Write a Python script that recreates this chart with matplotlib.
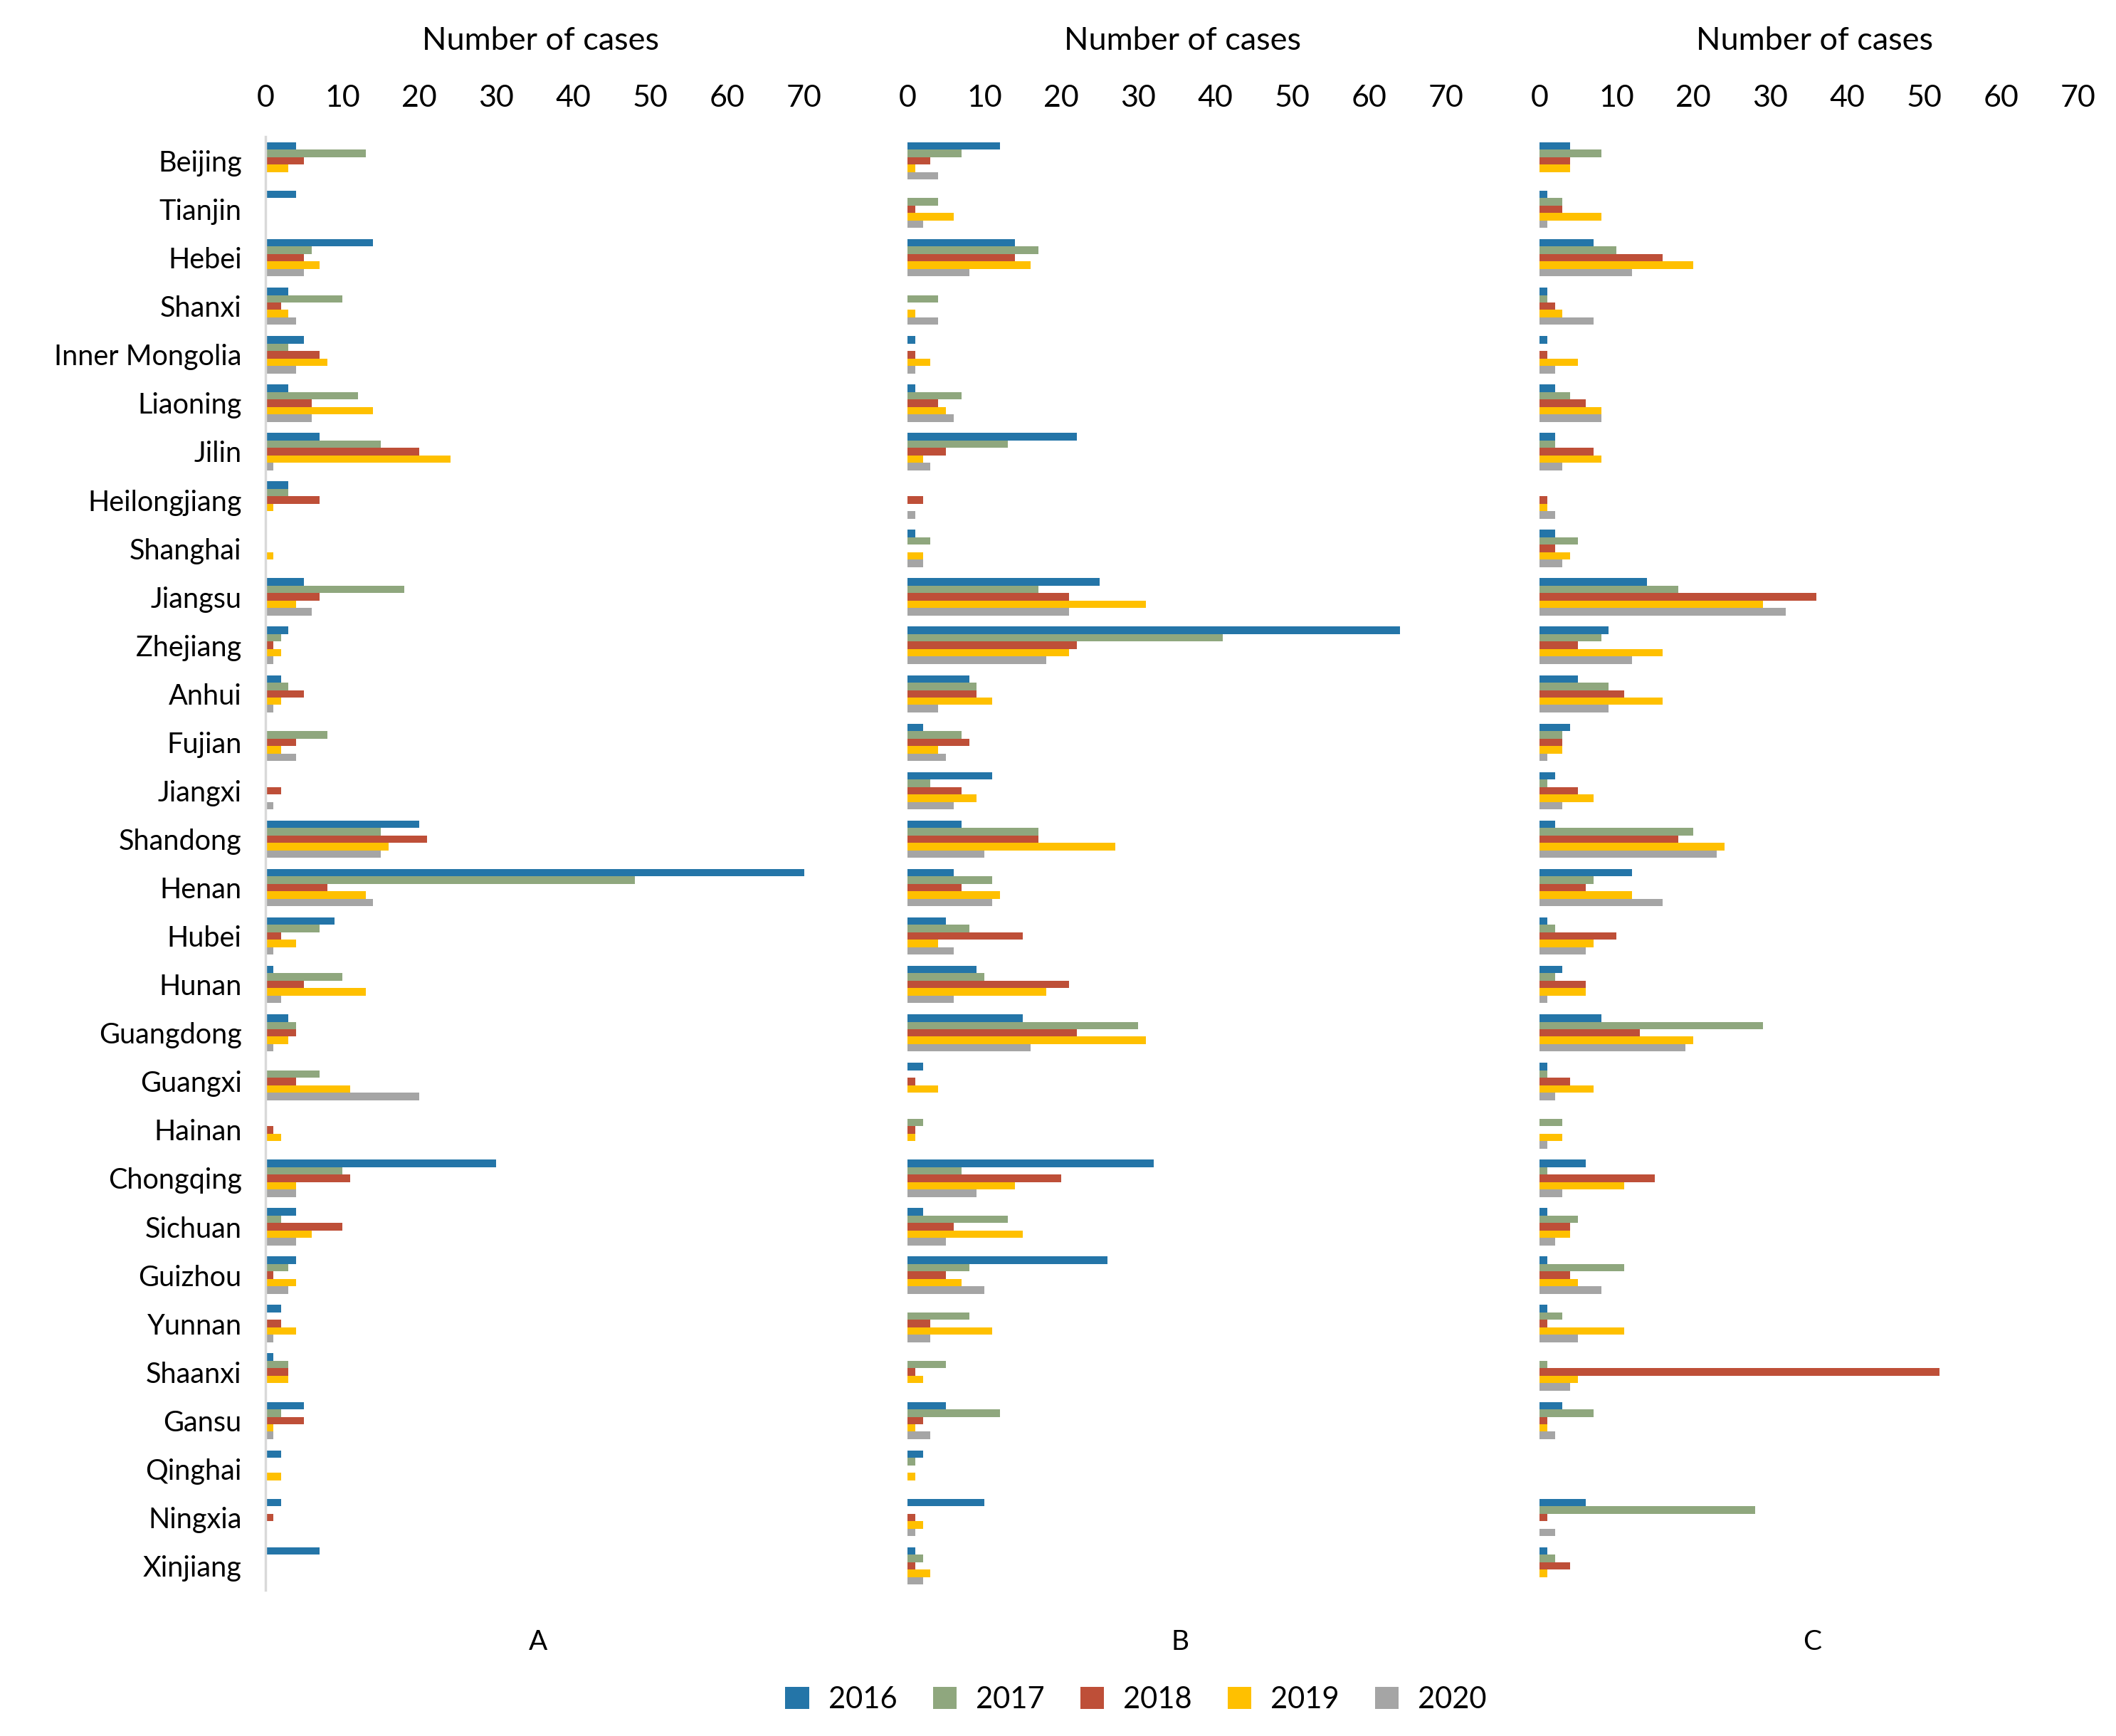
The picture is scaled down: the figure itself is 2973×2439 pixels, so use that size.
import matplotlib
matplotlib.use("Agg")
import matplotlib.pyplot as plt
import numpy as np
from matplotlib.patches import Patch

plt.rcParams['font.family'] = ['Lato', 'DejaVu Sans']

provinces = ["Beijing", "Tianjin", "Hebei", "Shanxi", "Inner Mongolia", "Liaoning", "Jilin",
             "Heilongjiang", "Shanghai", "Jiangsu", "Zhejiang", "Anhui", "Fujian", "Jiangxi",
             "Shandong", "Henan", "Hubei", "Hunan", "Guangdong", "Guangxi", "Hainan",
             "Chongqing", "Sichuan", "Guizhou", "Yunnan", "Shaanxi", "Gansu", "Qinghai",
             "Ningxia", "Xinjiang"]
years = ["2016", "2017", "2018", "2019", "2020"]
colors = ["#2475A8", "#8FA77E", "#BE4F38", "#FFC000", "#A5A5A5"]

# Panel A
A_2016 = [4, 4, 14, 3, 5, 3, 7, 3, 0, 5, 3, 2, 0, 0, 20, 70, 9, 1, 3, 0, 0, 30, 4, 4, 2, 1, 5, 2, 2, 7]
A_2017 = [13, 0, 6, 10, 3, 12, 15, 3, 0, 18, 2, 3, 8, 0, 15, 48, 7, 10, 4, 7, 0, 10, 2, 3, 0, 3, 2, 0, 0, 0]
A_2018 = [5, 0, 5, 2, 7, 6, 20, 7, 0, 7, 1, 5, 4, 2, 21, 8, 2, 5, 4, 4, 1, 11, 10, 1, 2, 3, 5, 0, 1, 0]
A_2019 = [3, 0, 7, 3, 8, 14, 24, 1, 1, 4, 2, 2, 2, 0, 16, 13, 4, 13, 3, 11, 2, 4, 6, 4, 4, 3, 1, 2, 0, 0]
A_2020 = [0, 0, 5, 4, 4, 6, 1, 0, 0, 6, 1, 1, 4, 1, 15, 14, 1, 2, 1, 20, 0, 4, 4, 3, 1, 0, 1, 0, 0, 0]

# Panel B
B_2016 = [12, 0, 14, 0, 1, 1, 22, 0, 1, 25, 64, 8, 2, 11, 7, 6, 5, 9, 15, 2, 0, 32, 2, 26, 0, 0, 5, 2, 10, 1]
B_2017 = [7, 4, 17, 4, 0, 7, 13, 0, 3, 17, 41, 9, 7, 3, 17, 11, 8, 10, 30, 0, 2, 7, 13, 8, 8, 5, 12, 1, 0, 2]
B_2018 = [3, 1, 14, 0, 1, 4, 5, 2, 0, 21, 22, 9, 8, 7, 17, 7, 15, 21, 22, 1, 1, 20, 6, 5, 3, 1, 2, 0, 1, 1]
B_2019 = [1, 6, 16, 1, 3, 5, 2, 0, 2, 31, 21, 11, 4, 9, 27, 12, 4, 18, 31, 4, 1, 14, 15, 7, 11, 2, 1, 1, 2, 3]
B_2020 = [4, 2, 8, 4, 1, 6, 3, 1, 2, 21, 18, 4, 5, 6, 10, 11, 6, 6, 16, 0, 0, 9, 5, 10, 3, 0, 3, 0, 1, 2]

# Panel C
C_2016 = [4, 1, 7, 1, 1, 2, 2, 0, 2, 14, 9, 5, 4, 2, 2, 12, 1, 3, 8, 1, 0, 6, 1, 1, 1, 0, 3, 0, 6, 1]
C_2017 = [8, 3, 10, 1, 0, 4, 2, 0, 5, 18, 8, 9, 3, 1, 20, 7, 2, 2, 29, 1, 3, 1, 5, 11, 3, 1, 7, 0, 28, 2]
C_2018 = [4, 3, 16, 2, 1, 6, 7, 1, 2, 36, 5, 11, 3, 5, 18, 6, 10, 6, 13, 4, 0, 15, 4, 4, 1, 52, 1, 0, 1, 4]
C_2019 = [4, 8, 20, 3, 5, 8, 8, 1, 4, 29, 16, 16, 3, 7, 24, 12, 7, 6, 20, 7, 3, 11, 4, 5, 11, 5, 1, 0, 0, 1]
C_2020 = [0, 1, 12, 7, 2, 8, 3, 2, 3, 32, 12, 9, 1, 3, 23, 16, 6, 1, 19, 2, 1, 3, 2, 8, 5, 4, 2, 0, 2, 0]

panels = {
    "A": [A_2016, A_2017, A_2018, A_2019, A_2020],
    "B": [B_2016, B_2017, B_2018, B_2019, B_2020],
    "C": [C_2016, C_2017, C_2018, C_2019, C_2020],
}
xticks = [0, 10, 20, 30, 40, 50, 60, 70]

W, H = 2973, 2439
fig = plt.figure(figsize=(W / 100, H / 100), dpi=100)

FS = 30
lefts_px = [373, 1275, 2163]
width_px = 757
top_px, bottom_px = 192, 2234

y = np.arange(len(provinces))
group = 0.77
bh = group / len(years)

for k, (name, series) in enumerate(panels.items()):
    ax = fig.add_axes([lefts_px[k] / W, 1 - bottom_px / H, width_px / W, (bottom_px - top_px) / H])
    for i, vals in enumerate(series):
        ax.barh(y + (i - 2) * bh, vals, height=bh, color=colors[i], edgecolor='none')
    ax.set_xlim(0, 70)
    ax.set_ylim(len(provinces) - 0.5, -0.5)
    ax.xaxis.tick_top()
    ax.set_xticks(xticks)
    ax.set_xticklabels([str(t) for t in xticks], fontsize=31)
    ax.tick_params(axis='x', length=0, pad=25)
    for s in ["top", "right", "bottom"]:
        ax.spines[s].set_visible(False)
    if k == 0:
        ax.spines["left"].set_color("#D9D9D9")
        ax.spines["left"].set_linewidth(2.5)
        ax.set_yticks(y)
        ax.set_yticklabels(provinces, fontsize=28.5)
        ax.tick_params(axis='y', length=0, pad=24)
    else:
        ax.spines["left"].set_visible(False)
        ax.set_yticks([])
    cx = (lefts_px[k] + width_px / 2) / W
    fig.text(cx + 8 / W, 1 - 70 / H, "Number of cases", ha='center', va='baseline', fontsize=32.5)
    fig.text(cx + 5 / W, 1 - 2318 / H, name, ha='center', va='baseline', fontsize=FS - 2)

handles = [Patch(facecolor=c, edgecolor='none') for c in colors]
fig.legend(handles, years, loc='center', bbox_to_anchor=(1596 / W, 1 - 2388 / H), ncol=5,
           frameon=False, fontsize=FS, handlelength=0.8, handleheight=0.78,
           handletextpad=0.65, columnspacing=1.2, borderpad=0, borderaxespad=0)

fig.savefig("out.png", dpi=100)
